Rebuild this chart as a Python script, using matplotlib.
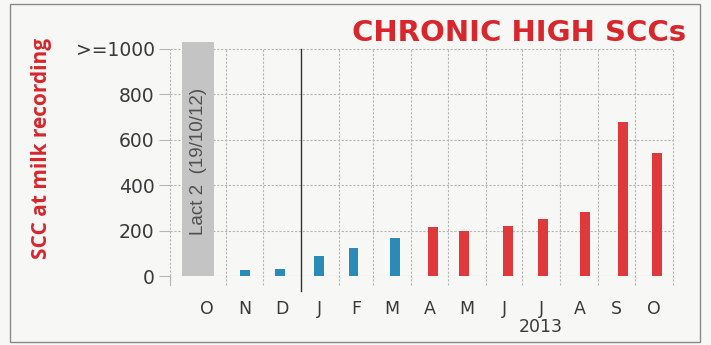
import matplotlib
matplotlib.use("Agg")
import matplotlib.pyplot as plt
import matplotlib.dates as mdates
from matplotlib.patches import Rectangle
import datetime as dt

# ---- data ----
record_dates = ["2012-11-16", "2012-12-15", "2013-01-16", "2013-02-13", "2013-03-19",
                "2013-04-19", "2013-05-14", "2013-06-19", "2013-07-18", "2013-08-21",
                "2013-09-21", "2013-10-19"]
scc_values = [25, 30, 88, 123, 167, 215, 197, 219, 250, 281, 680, 540]
bar_groups = ["low", "low", "low", "low", "low", "high", "high", "high", "high", "high", "high", "high"]
month_labels = ["O", "N", "D", "J", "F", "M", "A", "M", "J", "J", "A", "S", "O"]
month_starts = ["2012-10-01", "2012-11-01", "2012-12-01", "2013-01-01", "2013-02-01", "2013-03-01",
                "2013-04-01", "2013-05-01", "2013-06-01", "2013-07-01", "2013-08-01", "2013-09-01",
                "2013-10-01", "2013-11-01"]
ytick_values = [0, 200, 400, 600, 800, 1000]
ytick_labels = ["0", "200", "400", "600", "800", ">=1000"]
lact_span = ["2012-09-26", "2012-10-22"]
lact_text = "Lact 2  (19/10/12)"
title = "CHRONIC HIGH SCCs"
ylabel = "SCC at milk recording"
year_label = "2013"

def d(s):
    return dt.datetime.strptime(s, "%Y-%m-%d")

plt.rcParams['font.family'] = ['DejaVu Sans']

fig = plt.figure(figsize=(7.11, 3.45), dpi=100)
fig.patch.set_facecolor("#f7f7f5")
# figure frame
fig.add_artist(Rectangle((10/711, 3/345), 690/711, 338/345, transform=fig.transFigure,
                         fill=False, edgecolor="#8a8a8a", linewidth=1.0))

ax = fig.add_axes([170/711, 69/345, 503/711, 234/345])
ax.set_facecolor("none")
x0 = mdates.date2num(d("2012-09-16"))
x1 = mdates.date2num(d("2013-11-01"))
ax.set_xlim(x0, x1)
ax.set_ylim(0, 1030)
for s in ax.spines.values():
    s.set_visible(False)

grid_c = "#b5b5b5"
# horizontal grid
for v in ytick_values:
    ax.plot([x0, x1], [v, v], color=grid_c, lw=0.8, ls=(0, (2, 1.5)), zorder=1)
# left axis line
ax.plot([x0, x0], [0, 1000], color=grid_c, lw=0.8, ls=(0, (2, 1.5)), zorder=1, clip_on=False)
# vertical month grid (from Nov 1)
for ms in month_starts[1:]:
    xm = mdates.date2num(d(ms))
    if ms == "2013-01-01":
        ax.plot([xm, xm], [-65, 1000], color="#333333", lw=1.0, zorder=1, clip_on=False)
    else:
        ax.plot([xm, xm], [-38, 1000], color=grid_c, lw=0.8, ls=(0, (2, 1.5)), zorder=1, clip_on=False)
# small tick under left edge
ax.plot([x0, x0], [-38, 0], color=grid_c, lw=0.8, clip_on=False, zorder=1)

# lactation band
ls0 = mdates.date2num(d(lact_span[0]))
ls1 = mdates.date2num(d(lact_span[1]))
ax.bar([(ls0 + ls1) / 2], [1030], width=ls1 - ls0, bottom=0, color="#c4c4c4", zorder=2)
ax.text((ls0 + ls1) / 2 + 0.5, 505, lact_text, rotation=90, ha="center", va="center",
        fontsize=13.5, color="#505050", zorder=3, family=["Liberation Sans", "DejaVu Sans"])

# bars
colors = {"low": "#2b8bb8", "high": "#e0393b"}
bx = [mdates.date2num(d(s)) for s in record_dates]
ax.bar(bx, scc_values, width=8, color=[colors[g] for g in bar_groups], zorder=3)

# y ticks
ax.set_yticks(ytick_values)
ax.set_yticklabels(ytick_labels, fontsize=13.5, color="#3a3a3a")
ax.tick_params(axis="y", length=8, width=0.8, color=grid_c, pad=3)

# x month labels at mid-month
mids = []
for i in range(len(month_labels)):
    a = mdates.date2num(d(month_starts[i]))
    b = mdates.date2num(d(month_starts[i + 1]))
    mids.append((a + b) / 2)
ax.set_xticks(mids)
ax.set_xticklabels(month_labels, fontsize=12.5, color="#3a3a3a")
ax.tick_params(axis="x", length=0, pad=17)
ax.text(mdates.date2num(d("2013-07-16")), -224, year_label, ha="center", va="center",
        fontsize=12.5, color="#3a3a3a")

fig.text(42/711, (345 - 148.5)/345, ylabel, rotation=90, ha="center", va="center",
         color="#d8262c", fontsize=15, fontweight="bold", family=["Open Sans", "DejaVu Sans"])

fig.text(686/711, 312/345, title, ha="right", va="center", fontsize=21, fontweight="bold",
         color="#d8262c", family=["DejaVu Sans"])

fig.savefig("out.png", dpi=100, facecolor=fig.get_facecolor())
